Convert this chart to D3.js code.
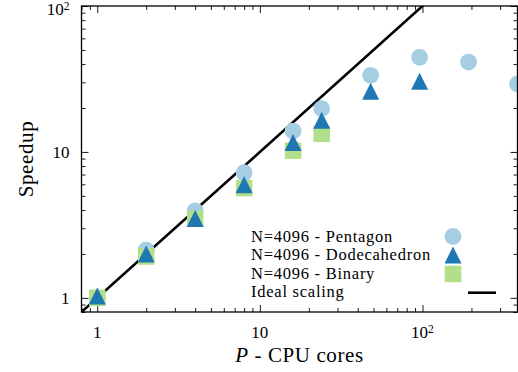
<!DOCTYPE html>
<html>
<head>
<meta charset="utf-8">
<script src="https://cdn.jsdelivr.net/npm/d3@7"></script>
<style>
  body { margin: 0; background: #fff; }
  svg { display: block; }
  text { font-family: "Liberation Serif", "DejaVu Serif", serif; fill: #000; }
</style>
</head>
<body>
<figure id="speedup-chart" style="margin:0"></figure>
<script>
// values (log-log speedup plot)
const pentagonCores = [1, 2, 4, 8, 16, 24, 48, 96, 192, 384];
const pentagon = [1.0, 2.12, 3.95, 7.2, 13.9, 19.8, 33.5, 44.5, 41.3, 29.2];
const dodecahedronCores = [1, 2, 4, 8, 16, 24, 48, 96];
const dodecahedron = [1.03, 2.0, 3.5, 5.95, 11.6, 16.5, 26.0, 30.5];
const binaryCores = [1, 2, 4, 8, 16, 24];
const binary = [1.0, 1.92, 3.48, 5.65, 10.2, 13.3];
const idealCores = [0.8, 384];
const seriesLabels = ["N=4096 - Pentagon", "N=4096 - Dodecahedron", "N=4096 - Binary", "Ideal scaling"];
const xTicks = [1, 10, 100];
const yTicks = [1, 10, 100];
const tickLabels = ["1", "10", "10|2"];

const width = 518, height = 372;
const margin = {left: 81.5, top: 6, right: 0.5, bottom: 60};
const w = width - margin.left - margin.right;
const h = height - margin.top - margin.bottom;

const colors = {pentagon: "#a6cee3", dodeca: "#1f78b4", binary: "#b2df8a"};
const serif = "'Liberation Serif', 'DejaVu Serif', serif";

const svg = d3.select("figure#speedup-chart")
  .append("svg")
  .attr("width", width)
  .attr("height", height)
  .attr("font-family", serif);

const g = svg.append("g")
  .attr("transform", "translate(" + margin.left + "," + margin.top + ")");

const x = d3.scaleLog().domain([0.8, 384]).range([0, w]);
const y = d3.scaleLog().domain([0.8, 100]).range([h, 0]);

g.append("clipPath").attr("id", "plot-clip")
  .append("rect").attr("width", w).attr("height", h);

// minor / major ticks, pointing inwards on all four sides
const isMajor = v => Math.abs(Math.log10(v) - Math.round(Math.log10(v))) < 1e-9;
const xMinor = x.ticks().filter(v => !isMajor(v));
const yMinor = y.ticks().filter(v => !isMajor(v));

function tickAxis(axisFn, scale, values, size, transform) {
  const a = g.append("g")
    .attr("transform", transform)
    .call(axisFn(scale).tickValues(values).tickSize(size).tickFormat(""));
  a.select(".domain").remove();
  a.selectAll("line").attr("stroke", "#000").attr("stroke-width", 0.9);
}
tickAxis(d3.axisBottom, x, xMinor, -4, "translate(0," + h + ")");
tickAxis(d3.axisBottom, x, xTicks, -7, "translate(0," + h + ")");
tickAxis(d3.axisTop, x, xMinor, -4, "translate(0,0)");
tickAxis(d3.axisTop, x, xTicks, -7, "translate(0,0)");
tickAxis(d3.axisLeft, y, yMinor, -4, "translate(0,0)");
tickAxis(d3.axisLeft, y, yTicks, -7, "translate(0,0)");
tickAxis(d3.axisRight, y, yMinor, -4, "translate(" + w + ",0)");
tickAxis(d3.axisRight, y, yTicks, -7, "translate(" + w + ",0)");

// tick labels (10^2 written with a superscript)
function writeLabel(sel, label) {
  const parts = label.split("|");
  sel.append("tspan").text(parts[0]);
  if (parts[1]) {
    sel.append("tspan").attr("dy", -5).style("font-size", "11.5px").text(parts[1]);
  }
}
xTicks.forEach((v, i) => {
  const t = g.append("text")
    .attr("x", x(v))
    .attr("y", h + 26)
    .attr("text-anchor", "middle")
    .style("font-size", "17px");
  writeLabel(t, tickLabels[i]);
});
yTicks.forEach((v, i) => {
  const sup = tickLabels[i].includes("|");
  const t = g.append("text")
    .attr("x", -12)
    .attr("y", y(v) + (sup ? 8.5 : 6))
    .attr("text-anchor", "end")
    .style("font-size", "17px");
  writeLabel(t, tickLabels[i]);
});

// ideal scaling line
const plot = g.append("g").attr("clip-path", "url(#plot-clip)");
plot.append("path")
  .datum(idealCores)
  .attr("d", d3.line().x(d => x(d)).y(d => y(d)))
  .attr("fill", "none")
  .attr("stroke", "#000")
  .attr("stroke-width", 2.6);

const marks = g.append("g");
const circleSym = d3.symbol().type(d3.symbolCircle).size(Math.PI * 8.4 * 8.4);
const squareSym = d3.symbol().type(d3.symbolSquare).size(16.5 * 16.5);
// triangle with width = height = 17 centred on its bounding box
const tri = s => "M0," + (-s / 2) + "L" + (s / 2) + "," + (s / 2) + "L" + (-s / 2) + "," + (s / 2) + "Z";

marks.selectAll(".pent")
  .data(pentagonCores.map((c, i) => [c, pentagon[i]]))
  .enter().append("path")
  .attr("d", circleSym)
  .attr("transform", d => "translate(" + x(d[0]) + "," + y(d[1]) + ")")
  .attr("fill", colors.pentagon);

marks.selectAll(".bin")
  .data(binaryCores.map((c, i) => [c, binary[i]]))
  .enter().append("path")
  .attr("d", squareSym)
  .attr("transform", d => "translate(" + x(d[0]) + "," + y(d[1]) + ")")
  .attr("fill", colors.binary);

marks.selectAll(".dod")
  .data(dodecahedronCores.map((c, i) => [c, dodecahedron[i]]))
  .enter().append("path")
  .attr("d", tri(17))
  .attr("transform", d => "translate(" + x(d[0]) + "," + y(d[1]) + ")")
  .attr("fill", colors.dodeca);

// frame
g.append("rect")
  .attr("width", w)
  .attr("height", h)
  .attr("fill", "none")
  .attr("stroke", "#000")
  .attr("stroke-width", 1.3);

// legend (text first, marker to the right)
const legend = svg.append("g").attr("transform", "translate(251,0)");
const rowY = [241.5, 260, 278.5, 297];
seriesLabels.forEach((s, i) => {
  legend.append("text")
    .attr("x", 0)
    .attr("y", rowY[i])
    .style("font-size", "16.5px")
    .style("letter-spacing", "0.75px")
    .text(s);
});
legend.append("path").attr("d", circleSym)
  .attr("transform", "translate(202,236.5)").attr("fill", colors.pentagon);
legend.append("path").attr("d", tri(17))
  .attr("transform", "translate(202,255)").attr("fill", colors.dodeca);
legend.append("path").attr("d", squareSym)
  .attr("transform", "translate(202,274)").attr("fill", colors.binary);
legend.append("line")
  .attr("x1", 217).attr("x2", 245)
  .attr("y1", 292.7).attr("y2", 292.7)
  .attr("stroke", "#000").attr("stroke-width", 2.6);

// axis titles
svg.append("text")
  .attr("transform", "translate(33," + (margin.top + h / 2) + ") rotate(-90)")
  .attr("text-anchor", "middle")
  .style("font-size", "21px")
  .style("letter-spacing", "0.6px")
  .text("Speedup");

const xl = svg.append("text")
  .attr("x", margin.left + w / 2)
  .attr("y", 362)
  .attr("text-anchor", "middle")
  .style("font-size", "21px")
  .style("letter-spacing", "0.6px");
xl.append("tspan").style("font-style", "italic").text("P");
xl.append("tspan").text(" - CPU cores");
</script>
</body>
</html>
